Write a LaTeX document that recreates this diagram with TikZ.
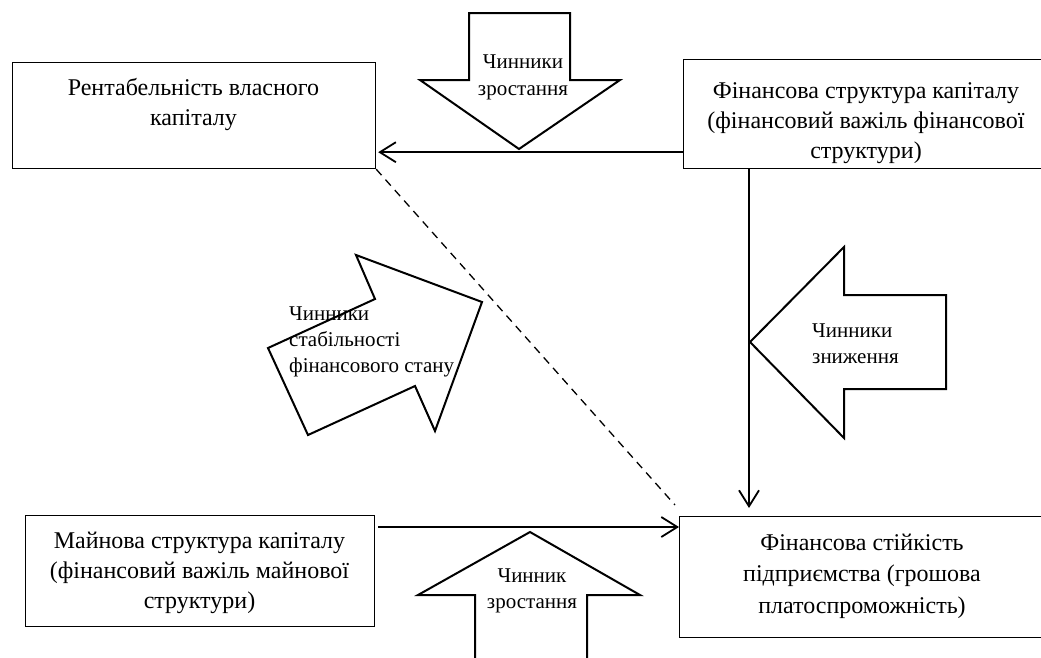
\documentclass[tikz,border=0pt]{standalone}
\usepackage{fontspec}
\setmainfont{Liberation Serif}
\usetikzlibrary{arrows.meta}
\tikzset{
  box/.style={draw, line width=1.2pt, inner sep=0pt, anchor=north west},
  bigtext/.style={font=\fontsize{24}{30}\selectfont, inner sep=0pt, align=center, anchor=north},
  smalltext/.style={font=\fontsize{21}{26}\selectfont, inner sep=0pt, anchor=north},
  conn/.style={line width=1.8pt, -{Straight Barb[length=16pt,width=20pt,line width=1.8pt]}},
  blockarrow/.style={draw, line width=2pt, line join=miter, fill=white},
  dashedconn/.style={line width=1.3pt, dash pattern=on 8pt off 6pt}
}
\begin{document}
\begin{tikzpicture}[x=1pt,y=-1pt]
\useasboundingbox (0,0) rectangle (1041,657);
\clip (0,0) rectangle (1041,657);
% boxes
\node[box, minimum width=363pt, minimum height=106pt] (b1) at (12,62) {};
\node[box, minimum width=366pt, minimum height=109pt] (b2) at (683,59) {};
\node[box, minimum width=349pt, minimum height=111pt] (b3) at (25,515) {};
\node[box, minimum width=366pt, minimum height=121pt] (b4) at (679,516) {};
% box texts
\node[bigtext] (t1) at (193.5,74) {\strut Рентабельність власного\\капіталу};
\node[bigtext] (t2) at (866,77) {\strut Фінансова структура капіталу\\(фінансовий важіль фінансової\\структури)};
\node[bigtext] (t3) at (199.5,527) {\strut Майнова структура капіталу\\(фінансовий важіль майнової\\структури)};
\node[bigtext, font=\fontsize{24}{31.5}\selectfont] (t4) at (862,528) {\strut Фінансова стійкість\\підприємства (грошова\\платоспроможність)};
% block arrows
\draw[blockarrow] (469,13) -- (570,13) -- (570,80) -- (620,80) -- (519,149) -- (420,80) -- (469,80) -- cycle;
\draw[blockarrow] (946,295) -- (844,295) -- (844,247) -- (750,342) -- (844,438) -- (844,389) -- (946,389) -- cycle;
\draw[blockarrow] (475,665) -- (475,595) -- (418,595) -- (530,532) -- (640,595) -- (587,595) -- (587,665);
\draw[blockarrow] (268,348) -- (308,435) -- (415,386) -- (435,431) -- (482,302) -- (356,255) -- (375,299) -- cycle;
% connectors
\draw[conn] ([yshift=17pt]b2.south west) -- ([xshift=2pt,yshift=17pt]b1.south east);
\draw[conn] ([xshift=66pt]b2.south west) -- ([xshift=70pt,yshift=8pt]b4.north west);
\draw[conn] ([xshift=3pt,yshift=-12pt]b3.north east) -- ([yshift=-11pt]b4.north west);
\draw[dashedconn] (b1.south east) -- ([xshift=-4pt,yshift=11pt]b4.north west);
% arrow texts
\node[smalltext, align=center] (a1) at (523,50) {\strut Чинники\\[1pt]зростання};
\node[smalltext, align=left, anchor=north west] (a2) at (812,319) {\strut Чинники\\зниження};
\node[smalltext, align=center] (a3) at (532,564) {\strut Чинник\\зростання};
\node[smalltext, align=left, anchor=north west] (a4) at (289,302) {\strut Чинники\\стабільності\\фінансового стану};
\end{tikzpicture}
\end{document}
